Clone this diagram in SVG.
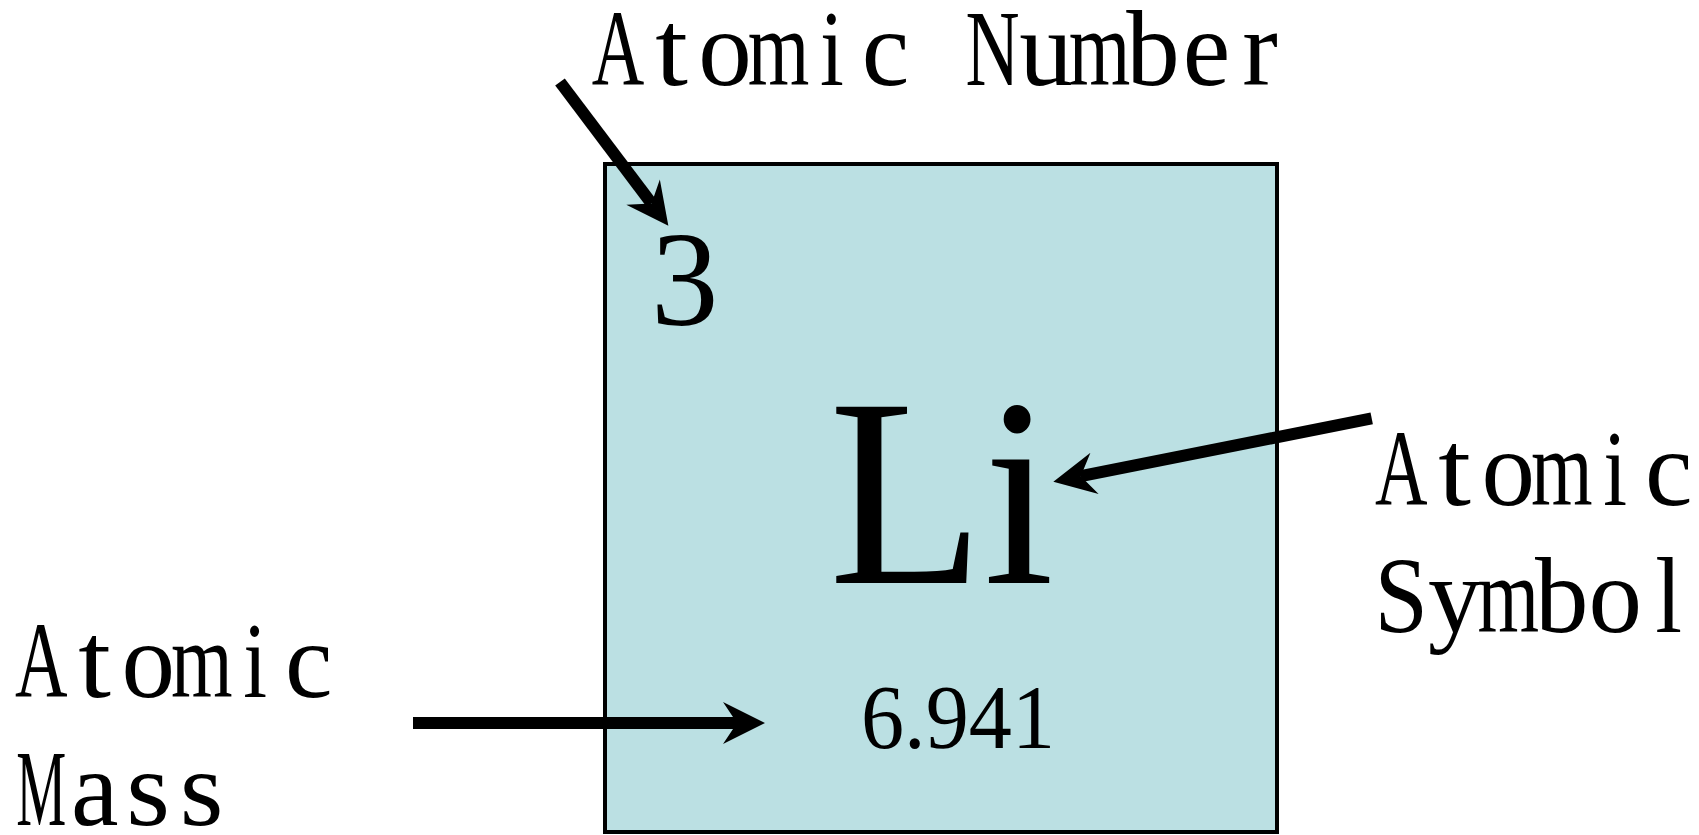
<svg xmlns="http://www.w3.org/2000/svg" width="1699" height="835" viewBox="0 0 1699 835">
<style>
.lbl{font-family:"Liberation Serif","Times New Roman",serif;font-size:107px;fill:#000}
.big{font-family:"Liberation Serif","Times New Roman",serif;fill:#000}
.conn{stroke:#000;stroke-width:12;fill:none;marker-end:url(#ah)}
</style>
<defs>
<marker id="ah" markerUnits="userSpaceOnUse" orient="auto" overflow="visible" refX="0" refY="0" markerWidth="1" markerHeight="1">
<path d="M28,0 L-14,-21 L0,0 L-14,21 Z" fill="#000"/>
</marker>
</defs>
<rect width="1699" height="835" fill="#fff"/>
<g id="element-box">
<rect x="605" y="164" width="672" height="668" fill="#bbe0e3" stroke="#000" stroke-width="4"/>
<text class="big" x="651" y="325" font-size="135">3</text>
<text class="big" x="829" y="583" font-size="269" textLength="225" lengthAdjust="spacingAndGlyphs">Li</text>
<text class="big" x="861" y="748" font-size="91" textLength="194" lengthAdjust="spacingAndGlyphs">6.941</text>
</g>
<g id="label-atomic-number">
<text class="lbl" y="85" lengthAdjust="spacingAndGlyphs"><tspan x="591.75" textLength="52.5" lengthAdjust="spacingAndGlyphs">A</tspan><tspan x="655.15" textLength="32.7" lengthAdjust="spacingAndGlyphs">t</tspan><tspan x="698.25" textLength="53.5" lengthAdjust="spacingAndGlyphs">o</tspan><tspan x="747.7" textLength="61.6" lengthAdjust="spacingAndGlyphs">m</tspan><tspan x="820.1" textLength="23.8" lengthAdjust="spacingAndGlyphs">i</tspan><tspan x="861.75" textLength="47.5" lengthAdjust="spacingAndGlyphs">c</tspan> <tspan x="965.45" textLength="54.1" lengthAdjust="spacingAndGlyphs">N</tspan><tspan x="1019.25" textLength="53.5" lengthAdjust="spacingAndGlyphs">u</tspan><tspan x="1068.7" textLength="61.6" lengthAdjust="spacingAndGlyphs">m</tspan><tspan x="1126.25" textLength="53.5" lengthAdjust="spacingAndGlyphs">b</tspan><tspan x="1182.75" textLength="47.5" lengthAdjust="spacingAndGlyphs">e</tspan><tspan x="1242.2" textLength="35.6" lengthAdjust="spacingAndGlyphs">r</tspan></text>
</g>
<g id="label-atomic-symbol">
<text class="lbl" y="505"><tspan x="1374.95" textLength="52.5" lengthAdjust="spacingAndGlyphs">A</tspan><tspan x="1438.35" textLength="32.7" lengthAdjust="spacingAndGlyphs">t</tspan><tspan x="1481.45" textLength="53.5" lengthAdjust="spacingAndGlyphs">o</tspan><tspan x="1530.9" textLength="61.6" lengthAdjust="spacingAndGlyphs">m</tspan><tspan x="1603.3" textLength="23.8" lengthAdjust="spacingAndGlyphs">i</tspan><tspan x="1644.95" textLength="47.5" lengthAdjust="spacingAndGlyphs">c</tspan></text>
<text class="lbl" y="632"><tspan x="1374.45" textLength="53.5" lengthAdjust="spacingAndGlyphs">S</tspan><tspan x="1427.95" textLength="53.5" lengthAdjust="spacingAndGlyphs">y</tspan><tspan x="1477.4" textLength="61.6" lengthAdjust="spacingAndGlyphs">m</tspan><tspan x="1534.95" textLength="53.5" lengthAdjust="spacingAndGlyphs">b</tspan><tspan x="1588.45" textLength="53.5" lengthAdjust="spacingAndGlyphs">o</tspan><tspan x="1655.3" textLength="26.8" lengthAdjust="spacingAndGlyphs">l</tspan></text>
</g>
<g id="label-atomic-mass">
<text class="lbl" y="697"><tspan x="14.95" textLength="52.5" lengthAdjust="spacingAndGlyphs">A</tspan><tspan x="78.35" textLength="32.7" lengthAdjust="spacingAndGlyphs">t</tspan><tspan x="121.45" textLength="53.5" lengthAdjust="spacingAndGlyphs">o</tspan><tspan x="170.9" textLength="61.6" lengthAdjust="spacingAndGlyphs">m</tspan><tspan x="243.3" textLength="23.8" lengthAdjust="spacingAndGlyphs">i</tspan><tspan x="284.95" textLength="47.5" lengthAdjust="spacingAndGlyphs">c</tspan></text>
<text class="lbl" y="825"><tspan x="16.2" textLength="50" lengthAdjust="spacingAndGlyphs">M</tspan><tspan x="70.95" textLength="47.5" lengthAdjust="spacingAndGlyphs">a</tspan><tspan x="126.35" textLength="43.7" lengthAdjust="spacingAndGlyphs">s</tspan><tspan x="179.85" textLength="43.7" lengthAdjust="spacingAndGlyphs">s</tspan></text>
</g>
<g id="connectors">
<line class="conn" x1="560" y1="82" x2="651.5" y2="203.4"/>
<line class="conn" x1="1371.7" y1="418.3" x2="1080.8" y2="476.2"/>
<line class="conn" x1="413" y1="723" x2="737" y2="723"/>
</g>
</svg>
